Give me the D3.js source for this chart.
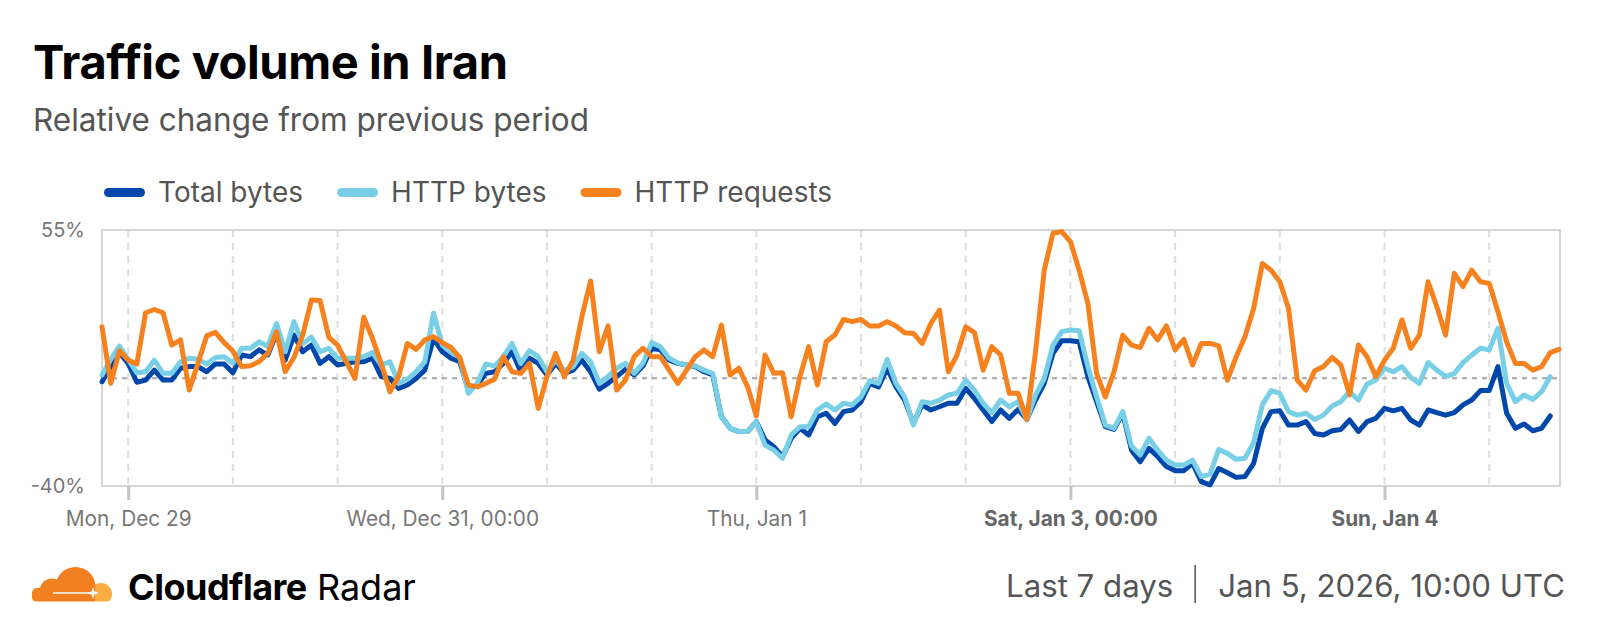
<!DOCTYPE html>
<html>
<head>
<meta charset="utf-8">
<script src="https://cdn.jsdelivr.net/npm/d3@7"></script>
<style>
  body { margin: 0; background: #fff; }
  svg { display: block; font-family: Inter, "Noto Sans", sans-serif; }
</style>
</head>
<body>
<div id="chart"></div>
<script>
// hourly values, % change from previous period
var totalBytes = [-1.3,4.3,9.5,5.5,-1.5,-0.7,3.0,-0.7,-0.7,3.7,4.3,4.3,2.4,5.3,5.3,2.0,8.6,8.0,10.5,8.6,
  16.6,6.7,16.0,9.8,12.3,5.5,8.0,4.9,5.5,6.1,6.1,7.4,0.6,-0.1,-3.8,-2.5,-0.1,3.0,14.8,9.8,
  7.4,6.1,-4.4,-2.5,1.8,2.4,5.5,9.8,2.4,7.4,5.5,1.2,5.5,1.8,3.0,6.7,2.4,-4.1,-1.9,0.6,
  3.3,1.2,4.5,11.1,10.5,6.7,5.5,4.9,4.3,2.4,1.2,-14.3,-18.6,-19.8,-19.8,-16.1,-22.9,-25.4,-29.1,-22.3,
  -18.6,-21.1,-14.3,-13.0,-16.8,-12.4,-11.8,-8.7,-1.9,-3.2,3.7,-3.2,-8.1,-16.8,-9.9,-11.8,-10.6,-9.3,-9.3,-3.8,
  -7.5,-11.8,-16.1,-11.8,-14.9,-11.6,-15.3,-8.1,-1.9,9.2,13.9,13.9,13.5,0.6,-8.7,-18.0,-19.0,-13.0,-26.7,-31.0,
  -26.0,-29.1,-32.8,-34.3,-34.3,-31.6,-38.4,-39.6,-33.5,-35.1,-36.8,-36.5,-31.6,-18.6,-12.4,-12.1,-17.4,-17.4,-16.1,-20.5,
  -21.1,-19.5,-19.0,-15.5,-19.8,-16.1,-14.9,-11.2,-12.1,-11.2,-15.5,-17.4,-11.8,-12.8,-13.7,-12.8,-9.9,-8.1,-4.6,-4.6,
  4.3,-13.0,-18.6,-17.0,-19.5,-18.6,-14.0];

var httpBytes = [1.2,7.0,11.9,7.0,2.0,2.4,6.7,1.8,1.8,6.1,7.4,7.0,5.3,7.7,8.0,5.5,11.1,11.1,13.5,11.9,
  20.3,9.8,21.0,12.9,15.2,9.8,11.1,7.4,7.4,7.4,8.0,9.5,4.9,6.1,-1.9,-0.4,2.4,6.1,24.1,12.3,
  9.8,7.7,-5.6,-1.9,5.3,4.5,8.0,12.9,5.5,10.2,8.0,2.4,6.7,2.8,4.3,9.2,6.1,-1.9,0.6,3.7,
  5.5,1.8,5.5,13.2,11.7,7.4,5.7,4.9,4.5,3.0,1.8,-14.3,-18.6,-19.8,-19.8,-16.1,-24.8,-26.7,-29.7,-21.1,
  -18.0,-18.0,-11.8,-9.6,-11.8,-9.3,-9.9,-6.9,-0.9,-1.9,7.0,-1.9,-6.9,-17.4,-8.7,-9.3,-8.1,-6.2,-5.6,-0.7,
  -4.4,-9.3,-12.8,-8.1,-10.6,-8.7,-15.5,-6.2,-0.1,12.3,17.3,17.9,17.6,4.3,-6.9,-17.4,-18.6,-12.4,-25.2,-28.5,
  -22.3,-26.7,-30.4,-32.2,-32.2,-30.4,-36.5,-35.6,-26.4,-27.9,-30.1,-29.7,-23.9,-9.9,-4.6,-5.6,-12.4,-13.7,-13.0,-15.3,
  -13.7,-10.3,-8.7,-5.0,-8.1,-2.2,-0.7,3.7,2.4,4.3,0.3,-1.9,5.8,3.0,0.6,1.8,5.8,8.6,11.1,10.5,
  18.5,-1.9,-8.7,-6.2,-7.9,-5.0,0.6];

var httpRequests = [19.1,-1.9,10.2,6.7,5.3,24.3,25.5,24.3,12.3,14.2,-4.4,5.5,15.7,17.0,13.2,10.1,4.3,4.6,6.1,9.2,
  17.3,2.4,7.7,16.0,29.0,28.8,15.2,12.3,6.1,-0.1,22.6,14.8,5.5,-5.0,0.6,12.9,10.7,14.2,15.4,13.2,
  11.4,7.7,-2.5,-3.2,-1.9,-0.4,8.0,2.4,1.8,5.5,-11.2,0.6,9.2,0.6,6.7,22.8,36.1,9.8,19.4,-4.4,
  -0.7,8.0,11.1,8.0,8.0,3.0,-1.9,3.0,8.0,10.5,8.0,19.7,1.2,3.7,-3.2,-14.0,8.6,1.8,2.0,-14.3,
  0.6,11.7,-2.5,13.5,16.0,21.8,21.0,21.8,19.4,19.4,21.0,19.4,16.9,16.6,12.9,20.3,25.3,2.4,8.6,19.1,
  16.9,3.0,11.7,8.6,-5.6,-5.6,-15.3,9.8,40.1,53.8,54.4,50.7,40.1,27.8,1.8,-6.9,2.4,16.0,12.3,11.4,
  18.5,14.2,19.4,10.5,14.4,4.9,12.9,12.9,12.0,-0.7,8.0,15.4,25.9,42.6,40.1,35.8,25.9,-0.7,-4.4,2.8,
  4.3,7.7,4.9,-6.2,12.3,8.0,0.6,6.7,11.1,21.6,11.1,16.0,35.8,26.5,16.0,38.9,34.0,40.1,35.8,35.2,
  24.7,13.5,5.5,5.5,3.0,4.3,9.5,10.7];

var seriesNames = ["Total bytes", "HTTP bytes", "HTTP requests"];
var seriesColors = ["#0047ab", "#78cfe6", "#f6821f"];

// x axis: hour index; labels as shown on the chart
var tickIdx = [3, 39, 75, 111, 147];
var tickLabels = ["Mon, Dec 29", "Wed, Dec 31, 00:00", "Thu, Jan 1", "Sat, Jan 3, 00:00", "Sun, Jan 4"];
var tickBold = [false, false, false, true, true];
var gridIdx = [3, 15, 27, 39, 51, 63, 75, 87, 99, 111, 123, 135, 147, 159];
var yTicks = [55, -40];

var W = 1600, H = 636;
var margin = {top: 230, right: 40, bottom: 150, left: 102};
var width = W - margin.left - margin.right, height = H - margin.top - margin.bottom;

var svg = d3.select('#chart')
    .append('svg')
    .attr('width', W)
    .attr('height', H);

svg.append('text').attr('x', 33).attr('y', 79)
    .attr('font-size', 47).attr('font-weight', 700).attr('fill', '#000')
    .attr('letter-spacing', -0.4)
    .text('Traffic volume in Iran');
svg.append('text').attr('x', 33).attr('y', 131)
    .attr('font-size', 31.5).attr('fill', '#555')
    .text('Relative change from previous period');

// legend
var lx = 104;
seriesNames.forEach(function(name, i){
    svg.append('line')
        .attr('x1', lx + 4.5).attr('x2', lx + 36.5)
        .attr('y1', 192.5).attr('y2', 192.5)
        .attr('stroke', seriesColors[i]).attr('stroke-width', 9)
        .attr('stroke-linecap', 'round');
    var t = svg.append('text').attr('x', lx + 54).attr('y', 202)
        .attr('font-size', 28).attr('fill', '#555')
        .text(name);
    lx = lx + 54 + t.node().getComputedTextLength() + 34;
});

var g = svg.append('g')
    .attr('transform', 'translate(' + margin.left + ',' + margin.top + ')');

var x = d3.scaleLinear().domain([0, 167]).range([0, width - 1]);
var y = d3.scaleLinear().domain([-40, 55]).range([height, 0]);

// vertical dashed grid
g.append('g').selectAll('line').data(gridIdx).enter().append('line')
    .attr('x1', d => x(d)).attr('x2', d => x(d))
    .attr('y1', 0).attr('y2', height)
    .attr('stroke', '#dedede').attr('stroke-width', 2)
    .attr('stroke-dasharray', '7,6');

g.append('rect').attr('width', width).attr('height', height)
    .attr('fill', 'none').attr('stroke', '#d6d6d6').attr('stroke-width', 2);

g.append('line')
    .attr('x1', 0).attr('x2', width)
    .attr('y1', y(0)).attr('y2', y(0))
    .attr('stroke', '#a8a8a8').attr('stroke-width', 2)
    .attr('stroke-dasharray', '5,5');

var xAxis = g.append('g')
    .attr('transform', 'translate(0,' + height + ')')
    .call(d3.axisBottom(x)
        .tickValues(tickIdx)
        .tickFormat((d, i) => tickLabels[i])
        .tickSize(14)
        .tickPadding(11));
xAxis.select('.domain').remove();
xAxis.selectAll('.tick line').attr('stroke', '#c4c4c4').attr('stroke-width', 3);
xAxis.selectAll('.tick text')
    .attr('font-family', 'Inter, sans-serif')
    .attr('font-size', 20.8)
    .attr('fill', (d, i) => tickBold[i] ? '#666' : '#777')
    .attr('font-weight', (d, i) => tickBold[i] ? 700 : 400);

var yAxis = g.append('g')
    .call(d3.axisLeft(y)
        .tickValues(yTicks)
        .tickFormat(d => d + '%')
        .tickSize(0)
        .tickPadding(17));
yAxis.select('.domain').remove();
yAxis.selectAll('.tick text')
    .attr('font-family', 'Inter, sans-serif')
    .attr('font-size', 20).attr('fill', '#777');

var line = d3.line()
    .x((d, i) => x(i))
    .y(d => y(d));

[totalBytes, httpBytes, httpRequests].forEach(function(data, i){
    g.append('path')
        .datum(data)
        .attr('fill', 'none')
        .attr('stroke', seriesColors[i])
        .attr('stroke-width', 5)
        .attr('stroke-linejoin', 'round')
        .attr('stroke-linecap', 'round')
        .attr('d', line);
});

// footer: logo + brand
var logo = svg.append('g');
logo.append('circle').attr('cx', 101).attr('cy', 594).attr('r', 11).attr('fill', '#fbad41');
logo.append('circle').attr('cx', 75.5).attr('cy', 587).attr('r', 20).attr('fill', '#f38020');
logo.append('circle').attr('cx', 52).attr('cy', 591).attr('r', 12.5).attr('fill', '#f38020');
logo.append('rect').attr('x', 32).attr('y', 588).attr('width', 40).attr('height', 14).attr('rx', 5).attr('fill', '#f38020');
logo.append('rect').attr('x', 40).attr('y', 592).attr('width', 55).attr('height', 10).attr('fill', '#f38020');
logo.append('rect').attr('x', 28).attr('y', 601.5).attr('width', 90).attr('height', 10).attr('fill', '#fff');
logo.append('line').attr('x1', 53).attr('x2', 90).attr('y1', 593).attr('y2', 593)
    .attr('stroke', '#fff').attr('stroke-width', 1.6);
logo.append('path').attr('d', 'M93,587 L94.5,591.5 L99,593 L94.5,594.5 L93,599 L91.5,594.5 L87,593 L91.5,591.5 Z')
    .attr('fill', '#fff');

var brand = svg.append('text').attr('x', 128).attr('y', 600).attr('font-size', 36).attr('fill', '#000');
brand.append('tspan').attr('font-weight', 700).attr('letter-spacing', -0.5).text('Cloudflare');
brand.append('tspan').text(' Radar');

var dateT = svg.append('text').attr('x', 1565).attr('y', 597)
    .attr('text-anchor', 'end').attr('font-size', 31.2).attr('fill', '#555')
    .text('Jan 5, 2026, 10:00 UTC');
var dx = 1565 - dateT.node().getComputedTextLength() - 23;
svg.append('line').attr('x1', dx).attr('x2', dx).attr('y1', 565).attr('y2', 603)
    .attr('stroke', '#555').attr('stroke-width', 1.5);
svg.append('text').attr('x', dx - 22).attr('y', 597)
    .attr('text-anchor', 'end').attr('font-size', 31.2).attr('fill', '#555')
    .text('Last 7 days');
</script>
</body>
</html>
